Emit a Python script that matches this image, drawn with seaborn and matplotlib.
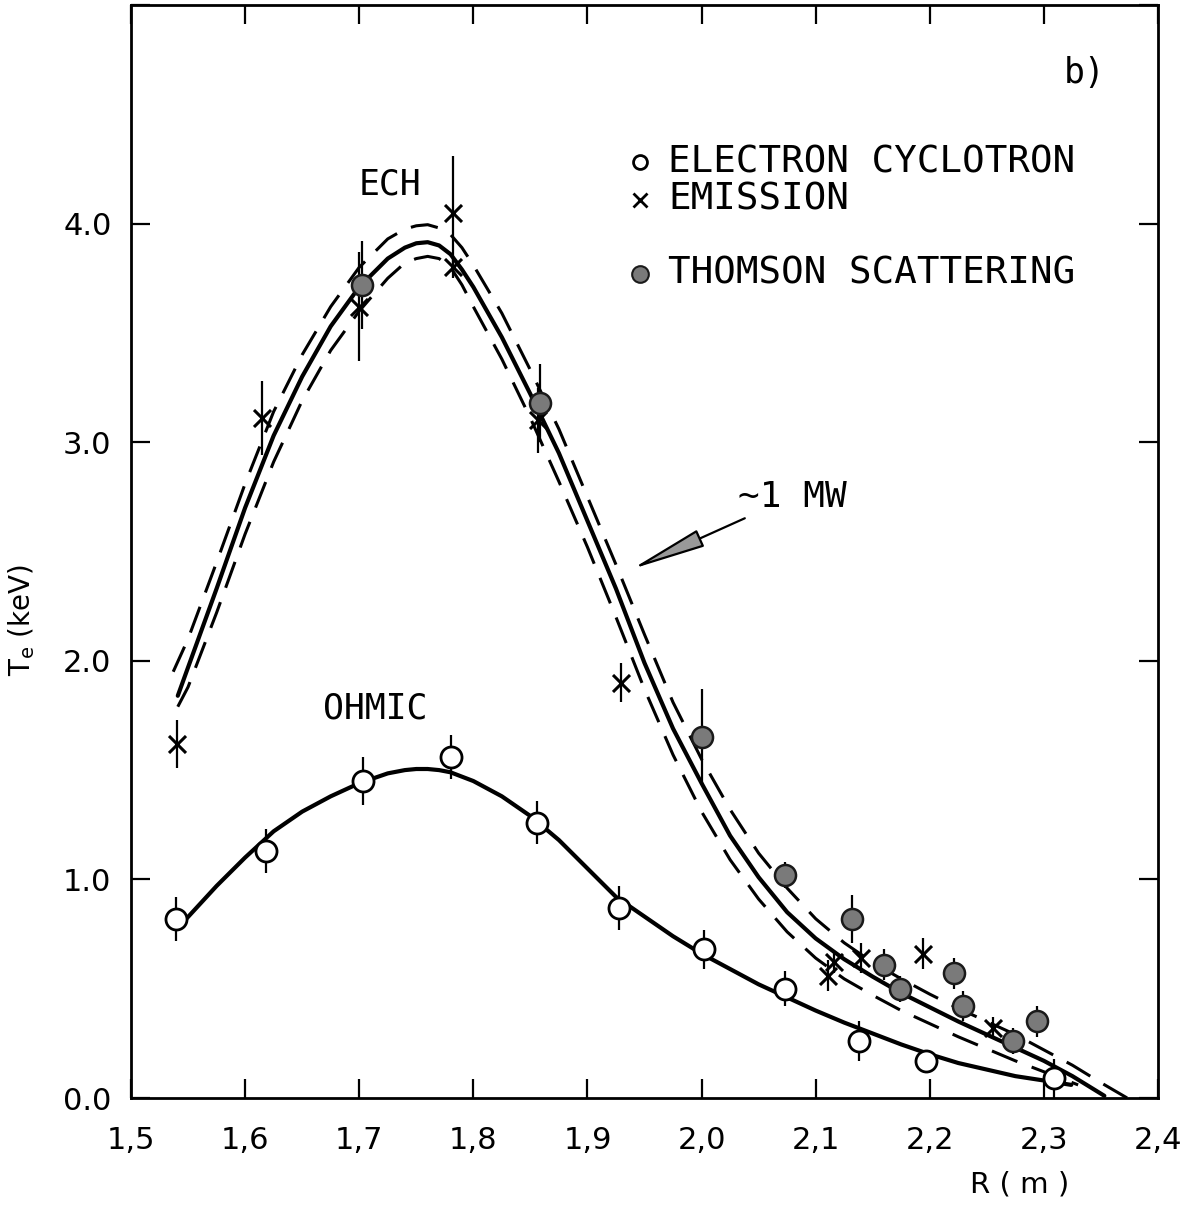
import matplotlib
matplotlib.use("Agg")
import matplotlib.pyplot as plt
import seaborn as sns
import pandas as pd
import numpy as np

# ---------------- data ----------------
# fitted profiles (R in m, Te in keV)
ech_fit_R = [1.541, 1.55, 1.575, 1.60, 1.625, 1.65, 1.675, 1.70, 1.725, 1.74, 1.75, 1.76,
             1.77, 1.78, 1.79, 1.80, 1.825, 1.85, 1.875, 1.90, 1.925, 1.95, 1.975, 2.00,
             2.025, 2.05, 2.075, 2.10, 2.125, 2.15, 2.175, 2.20, 2.225, 2.25, 2.275, 2.30,
             2.325, 2.353]
ech_fit_T = [1.84, 1.97, 2.33, 2.70, 3.03, 3.30, 3.53, 3.71, 3.84, 3.89, 3.91, 3.915,
             3.90, 3.86, 3.79, 3.71, 3.48, 3.22, 2.95, 2.64, 2.33, 1.99, 1.69, 1.44,
             1.20, 1.01, 0.85, 0.73, 0.635, 0.555, 0.48, 0.415, 0.35, 0.29, 0.23, 0.17,
             0.10, 0.01]

ech_up_R = [1.537, 1.55, 1.575, 1.60, 1.625, 1.65, 1.675, 1.70, 1.725, 1.74, 1.75, 1.76,
            1.77, 1.78, 1.79, 1.80, 1.825, 1.85, 1.875, 1.90, 1.925, 1.95, 1.975, 2.00,
            2.025, 2.05, 2.075, 2.10, 2.125, 2.15, 2.175, 2.20, 2.225, 2.25, 2.275, 2.30,
            2.325, 2.35, 2.373]
ech_up_T = [1.95, 2.10, 2.45, 2.81, 3.14, 3.40, 3.62, 3.80, 3.93, 3.975, 3.99, 3.995,
            3.98, 3.95, 3.89, 3.81, 3.59, 3.33, 3.06, 2.75, 2.44, 2.12, 1.81, 1.55,
            1.32, 1.12, 0.96, 0.82, 0.71, 0.62, 0.545, 0.475, 0.41, 0.35, 0.29, 0.22,
            0.15, 0.07, 0.00]

ech_lo_R = [1.541, 1.55, 1.575, 1.60, 1.625, 1.65, 1.675, 1.70, 1.725, 1.74, 1.75, 1.76,
            1.77, 1.78, 1.79, 1.80, 1.825, 1.85, 1.875, 1.90, 1.925, 1.95, 1.975, 2.00,
            2.025, 2.05, 2.075, 2.10, 2.125, 2.15, 2.175, 2.20, 2.225, 2.25, 2.275, 2.30,
            2.33]
ech_lo_T = [1.79, 1.88, 2.22, 2.58, 2.91, 3.19, 3.42, 3.60, 3.75, 3.82, 3.84, 3.85,
            3.84, 3.80, 3.72, 3.62, 3.38, 3.11, 2.82, 2.52, 2.20, 1.87, 1.57, 1.31,
            1.09, 0.91, 0.76, 0.64, 0.545, 0.47, 0.40, 0.34, 0.28, 0.225, 0.17, 0.12,
            0.06]

ohm_fit_R = [1.545, 1.575, 1.60, 1.625, 1.65, 1.675, 1.70, 1.725, 1.74, 1.75, 1.76, 1.77,
             1.78, 1.80, 1.825, 1.85, 1.875, 1.90, 1.925, 1.95, 1.975, 2.00, 2.025, 2.05,
             2.075, 2.10, 2.125, 2.15, 2.175, 2.20, 2.225, 2.25, 2.275, 2.30, 2.324]
ohm_fit_T = [0.80, 0.97, 1.10, 1.22, 1.31, 1.38, 1.44, 1.485, 1.50, 1.505, 1.505, 1.50,
             1.49, 1.45, 1.38, 1.29, 1.18, 1.05, 0.92, 0.83, 0.74, 0.66, 0.59, 0.52,
             0.46, 0.40, 0.345, 0.295, 0.245, 0.20, 0.16, 0.13, 0.10, 0.08, 0.06]

# ECE, ohmic (open circles)
ece_ohm_R = [1.539, 1.618, 1.703, 1.780, 1.856, 1.928, 2.002, 2.073, 2.138, 2.197, 2.309]
ece_ohm_T = [0.82, 1.13, 1.45, 1.56, 1.26, 0.87, 0.68, 0.50, 0.26, 0.17, 0.09]
ece_ohm_E = [0.10, 0.10, 0.11, 0.10, 0.10, 0.10, 0.09, 0.08, 0.09, 0.05, 0.09]

# ECE, ECH (crosses)
ece_ech_R = [1.540, 1.615, 1.700, 1.782, 1.782, 1.857, 1.929, 2.111, 2.116, 2.140, 2.194, 2.255]
ece_ech_T = [1.62, 3.11, 3.62, 4.05, 3.80, 3.10, 1.90, 0.56, 0.62, 0.64, 0.66, 0.32]
ece_ech_E = [0.11, 0.17, 0.25, 0.26, 0.05, 0.15, 0.09, 0.07, 0.05, 0.07, 0.07, 0.05]

# Thomson scattering (filled circles)
ts_R = [1.702, 1.858, 2.000, 2.073, 2.132, 2.160, 2.174, 2.221, 2.229, 2.273, 2.294]
ts_T = [3.72, 3.18, 1.65, 1.02, 0.82, 0.61, 0.50, 0.57, 0.42, 0.26, 0.35]
ts_E = [0.20, 0.18, 0.22, 0.06, 0.11, 0.07, 0.06, 0.07, 0.07, 0.06, 0.07]

x_ticks = [1.5, 1.6, 1.7, 1.8, 1.9, 2.0, 2.1, 2.2, 2.3, 2.4]
x_ticklabels = ["1,5", "1,6", "1,7", "1,8", "1,9", "2,0", "2,1", "2,2", "2,3", "2,4"]
y_ticks = [0.0, 1.0, 2.0, 3.0, 4.0, 5.0]
y_ticklabels = ["0.0", "1.0", "2.0", "3.0", "4.0", ""]

# ---------------- figure ----------------
sns.set_theme(style="ticks")
plt.rcParams["font.family"] = ["DejaVu Sans"]
plt.rcParams["text.color"] = "black"
MONO = ["DejaVu Sans Mono", "DejaVu Sans"]

fig = plt.figure(figsize=(11.88, 12.09), dpi=100)
ax = fig.add_axes([131/1188, 1 - 1098/1209, (1158-131)/1188, (1098-5)/1209])

fit_df = pd.concat([
    pd.DataFrame({"R": ech_fit_R, "Te": ech_fit_T, "curve": "ech"}),
    pd.DataFrame({"R": ohm_fit_R, "Te": ohm_fit_T, "curve": "ohm"}),
])
sns.lineplot(data=fit_df, x="R", y="Te", units="curve", estimator=None, sort=False,
             color="black", linewidth=3.0, ax=ax, legend=False)
n0 = len(ax.lines)
dash_df = pd.concat([
    pd.DataFrame({"R": ech_up_R, "Te": ech_up_T, "curve": "up"}),
    pd.DataFrame({"R": ech_lo_R, "Te": ech_lo_T, "curve": "lo"}),
])
sns.lineplot(data=dash_df, x="R", y="Te", units="curve", estimator=None, sort=False,
             color="black", linewidth=2.2, ax=ax, legend=False)
for ln in ax.lines[n0:]:
    ln.set_dashes([9, 5])
for ln in ax.lines:
    ln.set_solid_joinstyle("round")
    ln.set_dash_joinstyle("round")

# error bars
for R, T, E in [(ece_ohm_R, ece_ohm_T, ece_ohm_E),
                (ece_ech_R, ece_ech_T, ece_ech_E),
                (ts_R, ts_T, ts_E)]:
    R = np.asarray(R); T = np.asarray(T); E = np.asarray(E)
    ax.vlines(R, T - E, T + E, color="black", linewidth=1.6, zorder=3)

sns.scatterplot(x=ece_ohm_R, y=ece_ohm_T, marker="o", s=230, facecolor="white",
                edgecolor="black", linewidth=2.0, ax=ax, zorder=5)
sns.scatterplot(x=ece_ech_R, y=ece_ech_T, marker="x", s=150, color="black",
                linewidth=2.2, ax=ax, zorder=5)
sns.scatterplot(x=ts_R, y=ts_T, marker="o", s=230, color="#7a7a7a",
                edgecolor="#1a1a1a", linewidth=1.8, ax=ax, zorder=5)

ax.set_xlim(1.5, 2.4)
ax.set_ylim(0.0, 5.0)
ax.set_xticks(x_ticks)
ax.set_xticklabels(x_ticklabels)
ax.set_yticks(y_ticks)
ax.set_yticklabels(y_ticklabels)
ax.tick_params(axis="both", direction="in", length=14, width=1.6, labelsize=22,
               top=True, right=True, colors="black")
ax.tick_params(axis="x", pad=20)
ax.tick_params(axis="y", pad=14)
for sp in ax.spines.values():
    sp.set_visible(True)
    sp.set_linewidth(2.0)
    sp.set_color("black")
ax.set_xlabel("")
ax.set_ylabel("")
ax.text(-0.107, 0.437, "T$_{\\mathrm{e}}$ (keV)", transform=ax.transAxes, rotation=90,
        ha="center", va="center", fontsize=20, color="black")

txt = dict(fontsize=25, color="black", family=MONO)
ax.text(2.336, 4.69, "b)", ha="center", va="center", **txt)
ax.text(1.727, 4.18, "ECH", ha="center", va="center", **txt)
ax.text(1.714, 1.78, "OHMIC", ha="center", va="center", **txt)

# legend drawn as text block
ax.plot([1.946], [4.28], marker="o", ms=10, mfc="white", mec="black", mew=2, ls="none")
ax.plot([1.946], [4.11], marker="x", ms=10, color="black", mew=2, ls="none")
ax.plot([1.946], [3.77], marker="o", ms=12, mfc="#7a7a7a", mec="#1a1a1a", mew=1.5, ls="none")
leg = dict(fontsize=27, color="black", family=MONO)
ax.text(1.971, 4.28, "ELECTRON CYCLOTRON", ha="left", va="center", **leg)
ax.text(1.971, 4.11, "EMISSION", ha="left", va="center", **leg)
ax.text(1.971, 3.77, "THOMSON SCATTERING", ha="left", va="center", **leg)

ax.annotate("~1 MW", xy=(1.939, 2.42), xytext=(2.032, 2.75), ha="left", va="center",
            fontsize=26, color="black", family=MONO,
            arrowprops=dict(arrowstyle="-|>,head_length=1.8,head_width=0.22",
                            edgecolor="black", facecolor="#999999", linewidth=1.6,
                            shrinkA=2, shrinkB=0))

fig.text(1020/1188, 1 - 1185/1209, "R ( m )", ha="center", va="center", fontsize=21,
         color="black")

fig.savefig("out.png", dpi=100, facecolor="white")
